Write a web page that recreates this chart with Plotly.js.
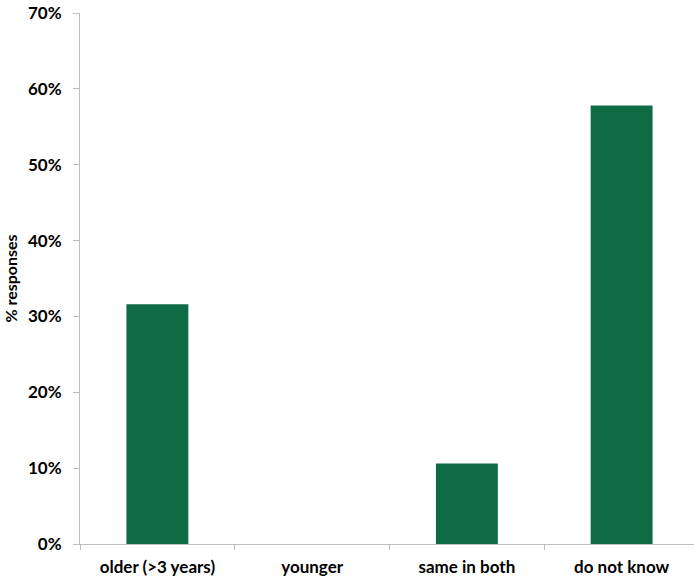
<!DOCTYPE html>
<html><head><meta charset="utf-8">
<script src="https://cdn.plot.ly/plotly-3.0.1.min.js"></script>
<style>html,body{margin:0;padding:0;overflow:hidden;background:#fff}</style>
</head><body><div id="chart"></div>
<script>
const categories = ["older (>3 years)", "younger", "same in both", "do not know"];
const values = [0.316, 0, 0.106, 0.578];
const yTickVals = [0, 0.1, 0.2, 0.3, 0.4, 0.5, 0.6, 0.7];
const yTickText = ["0%", "10%", "20%", "30%", "40%", "50%", "60%", "70%"];

const font = {family: "Lato, 'Open Sans', sans-serif", size: 16, color: "#000"};
Plotly.newPlot("chart", [{
  type: "bar", x: categories, y: values,
  marker: {color: "#0e6b43"}, hoverinfo: "skip"
}], {
  width: 699, height: 582,
  margin: {l: 80, r: 0, t: 13, b: 38},
  paper_bgcolor: "#fff", plot_bgcolor: "#fff",
  bargap: 0.6, showlegend: false,
  font: font,
  xaxis: {
    type: "category", showline: true, linecolor: "#bfbfbf", linewidth: 1,
    ticks: "outside", tickson: "boundaries", ticklen: 5, tickcolor: "#bfbfbf",
    showgrid: false, zeroline: false,
    tickfont: {family: font.family, size: 17, color: "#000", weight: "bold"},
    ticklabelstandoff: 8
  },
  yaxis: {
    range: [0, 0.7], tickvals: yTickVals, ticktext: yTickText,
    showline: true, linecolor: "#bfbfbf", linewidth: 1,
    ticks: "outside", ticklen: 6, tickcolor: "#bfbfbf",
    showgrid: false, zeroline: false,
    tickfont: {family: font.family, size: 17, color: "#000", weight: "bold"},
    ticklabelstandoff: 8,
    title: {text: "% responses", font: {family: font.family, size: 16, color: "#000", weight: "bold"}, standoff: 6}
  }
}, {displayModeBar: false, staticPlot: true});
</script></body></html>
